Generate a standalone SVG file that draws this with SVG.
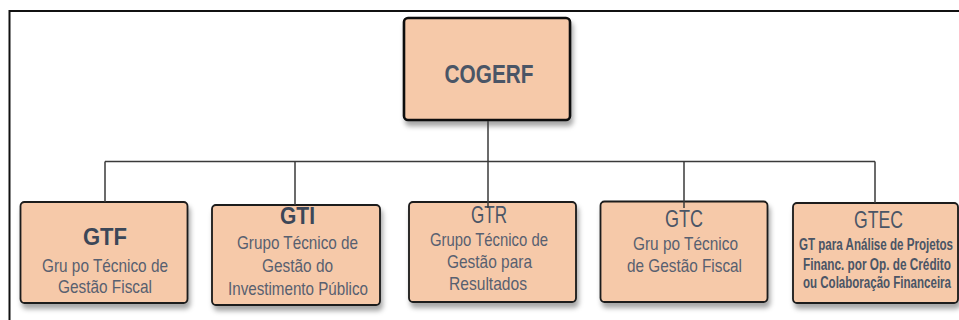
<svg xmlns="http://www.w3.org/2000/svg" width="959" height="320" viewBox="0 0 959 320">
<style>
.box{fill:#f6c9a9;stroke:#1a1a1a;stroke-width:1.8}
.top{fill:#f6c9a9;stroke:#111;stroke-width:2.6}
.t{font-family:"Liberation Sans",Arial,sans-serif;text-anchor:middle;fill:#4a5566}
.h{font-size:24px;font-weight:bold;fill:#3c4758}
.hr{font-size:24px;fill:#4a5566}
.s{font-size:18.5px;fill:#586070}
.sb{font-size:16px;font-weight:bold;fill:#4a5566}
.c{stroke:#3a3a3a;stroke-width:1.5;fill:none}
</style>
<defs>
<filter id="sh" x="-10%" y="-10%" width="130%" height="140%">
<feDropShadow dx="2" dy="5" stdDeviation="2.5" flood-color="#000" flood-opacity="0.35"/>
</filter>
</defs>
<rect width="959" height="320" fill="#fff"/>
<path d="M9.5 320 V11 H959" fill="none" stroke="#111" stroke-width="2"/>
<g id="COGERF">
<rect class="top" x="404" y="18" width="166" height="102" rx="4" filter="url(#sh)"/>
<text class="t" x="489" y="83" font-size="25" font-weight="bold" fill="#3c4758" textLength="89" lengthAdjust="spacingAndGlyphs">COGERF</text>
</g>
<g id="GTF">
<rect class="box" x="20.5" y="202" width="167" height="101" rx="4" filter="url(#sh)"/>
<text class="t h" x="105" y="245" textLength="44" lengthAdjust="spacingAndGlyphs">GTF</text>
<text class="t s" x="105" y="272" textLength="126" lengthAdjust="spacingAndGlyphs">Gru po Técnico de</text>
<text class="t s" x="105" y="293" textLength="94" lengthAdjust="spacingAndGlyphs">Gestão Fiscal</text>
</g>
<g id="GTI">
<rect class="box" x="212" y="205" width="168" height="100" rx="4" filter="url(#sh)"/>
<text class="t h" x="297.5" y="224" textLength="35" lengthAdjust="spacingAndGlyphs">GTI</text>
<text class="t s" x="297.5" y="249" textLength="121" lengthAdjust="spacingAndGlyphs">Grupo Técnico de</text>
<text class="t s" x="297.5" y="272" textLength="71" lengthAdjust="spacingAndGlyphs">Gestão do</text>
<text class="t s" x="298" y="295" textLength="140" lengthAdjust="spacingAndGlyphs">Investimento Público</text>
</g>
<g id="GTR">
<rect class="box" x="409" y="202" width="167" height="100" rx="4" filter="url(#sh)"/>
<text class="t hr" x="489" y="223" textLength="36" lengthAdjust="spacingAndGlyphs">GTR</text>
<text class="t s" x="489" y="246" textLength="118" lengthAdjust="spacingAndGlyphs">Grupo Técnico de</text>
<text class="t s" x="489.5" y="268" textLength="85" lengthAdjust="spacingAndGlyphs">Gestão para</text>
<text class="t s" x="488" y="290" textLength="78" lengthAdjust="spacingAndGlyphs">Resultados</text>
</g>
<g id="GTC">
<rect class="box" x="600.5" y="201.5" width="167" height="100.5" rx="4" filter="url(#sh)"/>
<text class="t hr" x="684" y="227" textLength="38" lengthAdjust="spacingAndGlyphs">GTC</text>
<text class="t s" x="685.5" y="250" textLength="105" lengthAdjust="spacingAndGlyphs">Gru po Técnico</text>
<text class="t s" x="684.5" y="272" textLength="115" lengthAdjust="spacingAndGlyphs">de Gestão Fiscal</text>
</g>
<g id="GTEC">
<rect class="box" x="793" y="203" width="165" height="100" rx="4" filter="url(#sh)"/>
<text class="t hr" x="878.5" y="228" textLength="49" lengthAdjust="spacingAndGlyphs">GTEC</text>
<text class="t sb" x="876" y="250" textLength="154" lengthAdjust="spacingAndGlyphs">GT para Análise de Projetos</text>
<text class="t sb" x="877" y="270" textLength="148" lengthAdjust="spacingAndGlyphs">Financ. por Op. de Crédito</text>
<text class="t sb" x="877" y="288" textLength="148" lengthAdjust="spacingAndGlyphs">ou Colaboração Financeira</text>
</g>
<g id="connectors">
<path class="c" d="M488 121 V161.5"/>
<path class="c" d="M105 161.5 H875"/>
<path class="c" d="M105 161.5 V202"/>
<path class="c" d="M295 161.5 V205"/>
<path class="c" d="M488 161.5 V208"/>
<path class="c" d="M684 161.5 V208"/>
<path class="c" d="M875 161.5 V203"/>
</g>
</svg>
